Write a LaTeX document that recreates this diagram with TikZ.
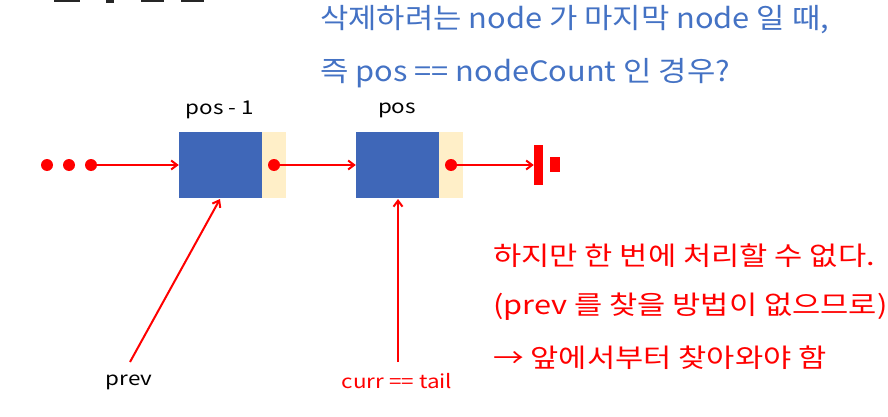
\documentclass[tikz,border=0pt]{standalone}
\usepackage{fontspec}
\setmainfont{Noto Sans CJK KR}
\newfontfamily\notefont[FakeStretch=1.1]{Noto Sans CJK KR}
\newfontfamily\warnfont[FakeStretch=1.18]{Noto Sans CJK KR}
\newfontfamily\tagfont[FakeStretch=1.18]{Noto Sans CJK KR}
\usetikzlibrary{arrows.meta}
\definecolor{nodeblue}{RGB}{63,103,184}
\definecolor{linkbeige}{RGB}{255,239,200}
\definecolor{noteblue}{RGB}{68,114,196}
\definecolor{linkred}{RGB}{255,0,0}
\tikzset{
  databox/.style={fill=nodeblue, draw=none, minimum width=83pt, minimum height=66pt, inner sep=0pt},
  linkbox/.style={fill=linkbeige, draw=none, minimum width=24pt, minimum height=66pt, inner sep=0pt},
  ptr/.style={draw=linkred, line width=2pt, -{Straight Barb[length=6pt,width=9pt,line width=2pt]}},
  dot/.style={circle, fill=linkred, minimum size=12pt, inner sep=0pt},
  lbl/.style={font=\tagfont\fontsize{19}{22}\selectfont, inner sep=0pt},
  note/.style={font=\notefont\fontsize{28}{32}\selectfont, anchor=west, inner sep=0pt},
  warn/.style={font=\warnfont\fontsize{26}{30}\selectfont, text=linkred, anchor=west, inner sep=0pt},
}
\begin{document}
\begin{tikzpicture}[x=1pt,y=-1pt]
\useasboundingbox (0,0) rectangle (888,417);
% clipped heading strokes along the top edge
\fill[black!85] (54,0) rectangle (80,2.5);
\fill[black!85] (106,0) rectangle (114,3);
\fill[black!85] (141,0) rectangle (164,2.5);
\fill[black!85] (181,0) rectangle (204,2.5);

% question
\node[note, text=noteblue] (q1) at (320,20) {삭제하려는 node 가 마지막 node 일 때,};
\node[note, text=noteblue] (q2) at (320,73) {즉 pos == nodeCount 인 경우?};

% list nodes
\node[databox] (n1) at (220.5,165) {};
\node[linkbox, anchor=west] (l1) at (n1.east) {};
\node[databox] (n2) at (397.5,165) {};
\node[linkbox, anchor=west] (l2) at (n2.east) {};
\node[lbl] (t1) at (220,110) {pos - 1};
\node[lbl] (t2) at (397,110) {pos};

% preceding nodes
\node[dot] (d1) at (47,165) {};
\node[dot] (d2) at (69,165) {};
\node[dot] (d3) at (91,165) {};

% pointers
\node[dot] (p1) at (274,165) {};
\node[dot] (p2) at (451,165) {};
\draw[ptr] (d3.center) -- (n1.west);
\draw[ptr] (p1.center) -- (n2.west);

% null terminator
\node[fill=linkred, minimum width=9pt, minimum height=40pt, inner sep=0pt] (gnd) at (538.5,165) {};
\node[fill=linkred, minimum width=10pt, minimum height=15pt, inner sep=0pt] (gnd2) at (555,164.5) {};
\draw[ptr] (p2.center) -- (gnd.west);

% references
\node[lbl] (prev) at (129,382) {prev};
\node[lbl, text=linkred] (curr) at (397,381) {curr == tail};
\coordinate (prevtail) at (130,362);
\coordinate (currtail) at (398,362);
\draw[ptr] (prevtail) -- (220,199);
\draw[ptr] (currtail) -- (398,199);

% explanation
\node[warn] (e1) at (493,256) {하지만 한 번에 처리할 수 없다.};
\node[warn] (e2) at (493,307) {(prev 를 찾을 방법이 없으므로)};
\node[warn] (e3) at (493,358) {→ 앞에서부터 찾아와야 함};
\end{tikzpicture}
\end{document}
